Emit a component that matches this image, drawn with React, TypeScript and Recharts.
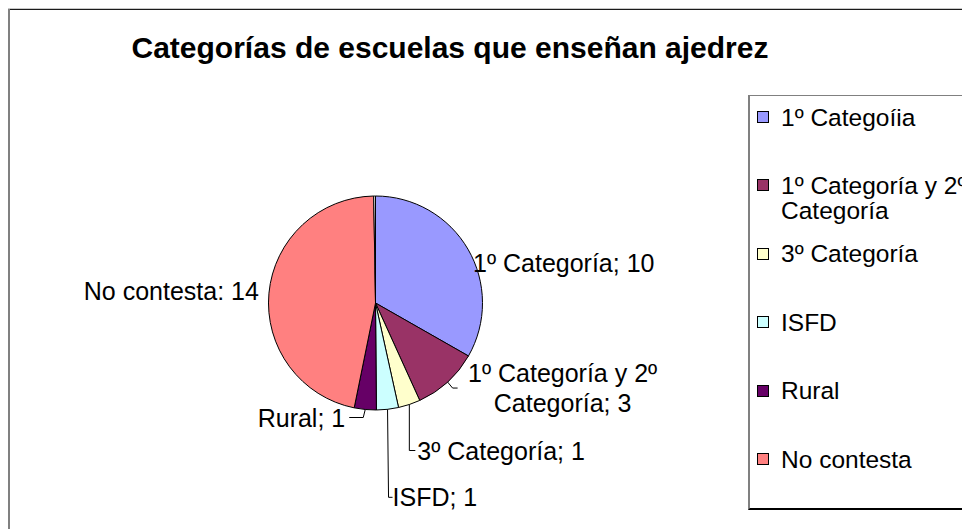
import React from 'react';
import { PieChart, Pie, Cell } from 'recharts';

const categories = ['1º Categoría', '1º Categoría y 2º Categoría', '3º Categoría', 'ISFD', 'Rural', 'No contesta', ''];
const values = [10, 3, 1, 1, 1, 14, 0.08];
const pieLabels = ['1º Categoría; 10', '1º Categoría y 2º\nCategoría; 3', '3º Categoría; 1', 'ISFD; 1', 'Rural; 1', 'No contesta: 14', ''];
const legendLabels = ['1º Categoíia', '1º Categoría y 2º\nCategoría', '3º Categoría', 'ISFD', 'Rural', 'No contesta'];
const colors = ['#9999FF', '#993366', '#FFFFCC', '#CCFFFF', '#660066', '#FF8080', '#FFFFFF'];
const title = 'Categorías de escuelas que enseñan ajedrez';

const data = categories.map((name, i) => ({ name, value: values[i] }));

const FONT = '"Liberation Sans", Arial, sans-serif';
const LABEL_SIZE = 25;
const LEGEND_SIZE = 24.5;

// label layout relative to the slice's outer edge point at its mid angle
const labelLayout: any[] = [
  { leader: null, tx: 5, ty: 14, anchor: 'start' },
  { leader: [[5, 6], [10, 6]], tx: 115, ty: 6, anchor: 'middle' },
  { leader: [[0, 46], [6, 46]], tx: 8, ty: 46, anchor: 'start' },
  { leader: [[1, 88], [5, 88]], tx: 5, ty: 88, anchor: 'start' },
  { leader: [[-2, 8], [-16, 8]], tx: -20, ty: 8, anchor: 'end' },
  { leader: null, tx: -10, ty: -2, anchor: 'end' },
  null,
];

const RAD = Math.PI / 180;

const renderLabel = (props: any) => {
  const { cx, cy, midAngle, outerRadius, index } = props;
  const cfg = labelLayout[index];
  if (!cfg) return null;
  const px = cx + outerRadius * Math.cos(-midAngle * RAD);
  const py = cy + outerRadius * Math.sin(-midAngle * RAD);
  const lines = pieLabels[index].split('\n');
  const lh = 30;
  const tx = px + cfg.tx;
  const ty = py + cfg.ty - ((lines.length - 1) * lh) / 2;
  let path = '';
  if (cfg.leader) {
    path = `M${px},${py}` + cfg.leader.map((p: number[]) => `L${px + p[0]},${py + p[1]}`).join('');
  }
  return (
    <g key={`lbl-${index}`}>
      {path && <path d={path} stroke="#000" strokeWidth={1} fill="none" />}
      <text
        x={tx}
        y={ty}
        textAnchor={cfg.anchor}
        dominantBaseline="central"
        fontFamily={FONT}
        fontSize={LABEL_SIZE}
        fill="#000"
      >
        {lines.map((l, i) => (
          <tspan key={i} x={tx} dy={i === 0 ? 0 : lh}>
            {l}
          </tspan>
        ))}
      </text>
    </g>
  );
};

const LegendBox = () => (
  <div
    style={{
      position: 'absolute',
      left: 740,
      top: 87,
      width: 300,
      height: 415,
      boxSizing: 'border-box',
      borderTop: '1px solid #808080',
      borderLeft: '2px solid #808080',
      borderBottom: '2px solid #000',
      background: '#fff',
      fontFamily: FONT,
      fontSize: LEGEND_SIZE,
      color: '#000',
    }}
  >
    {legendLabels.map((lab, i) => {
      const lh = 25;
      const top = 21 + 68.4 * i - lh / 2;
      return (
        <div key={i} style={{ position: 'absolute', left: 0, top, width: 300, height: lh * 2 }}>
          <div
            style={{
              position: 'absolute',
              left: 7,
              top: (lh - 12) / 2,
              width: 12,
              height: 12,
              boxSizing: 'border-box',
              border: '1px solid #000',
              background: colors[i],
            }}
          />
          <div style={{ position: 'absolute', left: 31, top: 0, lineHeight: `${lh}px`, whiteSpace: 'pre' }}>{lab}</div>
        </div>
      );
    })}
  </div>
);

export default function App() {
  return (
    <div
      style={{
        position: 'fixed',
        left: 8,
        top: 8,
        width: 954,
        height: 521,
        overflow: 'hidden',
        background: '#fff',
      }}
    >
      <div style={{ position: 'absolute', left: 0, top: 0, width: 954, height: 1, background: '#c8c8c8' }} />
      <div style={{ position: 'absolute', left: 0, top: 1, width: 954, height: 1, background: '#1a1a1a' }} />
      <div style={{ position: 'absolute', left: 0, top: 1, width: 2, height: 520, background: '#808080' }} />
      <div
        style={{
          position: 'absolute',
          left: 442,
          top: 40,
          transform: 'translate(-50%, -50%)',
          fontFamily: FONT,
          fontWeight: 'bold',
          fontSize: 30,
          whiteSpace: 'nowrap',
          color: '#000',
        }}
      >
        {title}
      </div>
      <div style={{ position: 'absolute', left: 0, top: 0 }}>
        <PieChart width={740} height={521} margin={{ top: 0, right: 0, bottom: 0, left: 0 }}>
          <Pie
            data={data}
            dataKey="value"
            nameKey="name"
            cx={367.5}
            cy={295}
            outerRadius={107}
            startAngle={90}
            endAngle={-270}
            stroke="#000"
            strokeWidth={1}
            label={renderLabel}
            labelLine={false}
            isAnimationActive={false}
          >
            {data.map((d, i) => (
              <Cell key={i} fill={colors[i]} />
            ))}
          </Pie>
        </PieChart>
      </div>
      <LegendBox />
    </div>
  );
}
